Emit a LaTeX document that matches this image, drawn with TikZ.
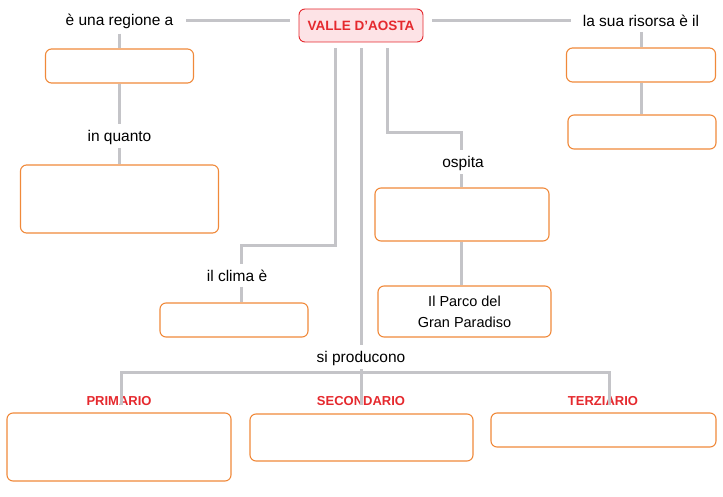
\documentclass[tikz,border=0pt]{standalone}
\usepackage{fontspec}
\setmainfont{Liberation Sans}
\usepackage{xcolor}
\usetikzlibrary{calc}

\definecolor{linegray}{HTML}{C4C4C8}
\definecolor{boxorange}{HTML}{F0893A}
\definecolor{titlered}{HTML}{E5292E}
\definecolor{titlepink}{HTML}{FDE3E6}

\begin{document}
\begin{tikzpicture}[
    x=1pt, y=-1pt,
    conn/.style={draw=linegray, line width=3pt},
    emptybox/.style={draw=boxorange, line width=1.1pt, rounded corners=6pt, fill=white, inner sep=0pt},
    lab/.style={font=\fontsize{15.5}{18}\selectfont, inner sep=0pt},
    sector/.style={font=\bfseries\fontsize{13}{15}\selectfont, text=titlered, inner sep=0pt}
  ]
  \useasboundingbox (0,0) rectangle (723,497);
  % centre
  \node[draw=titlered, line width=0.9pt, fill=titlepink, rounded corners=6pt,
        minimum width=124pt, minimum height=33pt, text=titlered,
        font=\bfseries\fontsize{13.5}{15}\selectfont] (title) at (361,25.5) {VALLE D’AOSTA};
  % left branch
  \node[lab] (regione) at (119.5,21) {è una regione a};
  \node[emptybox, minimum width=148pt, minimum height=34pt] (boxregione) at (119.5,66) {};
  \node[lab] (quanto) at (119.5,137) {in quanto};
  \node[emptybox, minimum width=198pt, minimum height=68pt] (boxquanto) at (119.5,199) {};
  % right branch
  \node[lab] (risorsa) at (641,21) {la sua risorsa è il};
  \node[emptybox, minimum width=149pt, minimum height=34pt] (boxrisorsaA) at (641,65) {};
  \node[emptybox, minimum width=148pt, minimum height=34pt] (boxrisorsaB) at (642,132) {};
  % ospita
  \node[lab] (ospita) at (463,163) {ospita};
  \node[emptybox, minimum width=174pt, minimum height=53pt] (boxospita) at (462,214.5) {};
  \node[emptybox, minimum width=173pt, minimum height=51pt, align=center,
        font=\fontsize{14.5}{21}\selectfont] (parco) at (464.5,311.5) {Il Parco del\\Gran Paradiso};
  % clima
  \node[lab] (clima) at (237,276) {il clima è};
  \node[emptybox, minimum width=148pt, minimum height=34pt] (boxclima) at (234,320) {};
  % settori
  \node[lab] (producono) at (361,358) {si producono};
  \node[sector] (primario) at (119,401) {PRIMARIO};
  \node[sector] (secondario) at (361,401) {SECONDARIO};
  \node[sector] (terziario) at (603,401) {TERZIARIO};
  \node[emptybox, minimum width=224pt, minimum height=68pt] (boxprimario) at (119,447) {};
  \node[emptybox, minimum width=223pt, minimum height=47pt] (boxsecondario) at (361.5,437.5) {};
  \node[emptybox, minimum width=225pt, minimum height=34pt] (boxterziario) at (603.5,430) {};
  % bends
  \coordinate (kneeospitaA) at (387,133);
  \coordinate (kneeospitaB) at (461,133);
  \coordinate (kneeclimaA) at (335,246);
  \coordinate (kneeclimaB) at (241,246);
  \coordinate (barleft) at (121,372);
  \coordinate (barright) at (609,372);

  \draw[conn] ([xshift=-9pt]title.west |- regione.east) -- ([xshift=12pt]regione.east);
  \draw[conn] ([xshift=9pt]title.east |- risorsa.west) -- ([xshift=-12pt]risorsa.west);
  \draw[conn] ([yshift=-5pt]regione.south) -- (boxregione.north);
  \draw[conn] (boxregione.south) -- ([yshift=6pt]quanto.north);
  \draw[conn] ([yshift=-4pt]quanto.south) -- (boxquanto.north);
  \draw[conn] ([yshift=-5pt]risorsa.south) -- (boxrisorsaA.north);
  \draw[conn] (boxrisorsaA.south) -- (boxrisorsaB.north -| boxrisorsaA.south);
  \draw[conn] ([shift={(26pt,-6pt)}]title.south) -- (kneeospitaA) -- (kneeospitaB) -- ([yshift=6pt]ospita.north -| kneeospitaB);
  \draw[conn] ([yshift=-4pt]ospita.south -| kneeospitaB) -- (boxospita.north -| kneeospitaB);
  \draw[conn] (boxospita.south -| kneeospitaB) -- (parco.north -| kneeospitaB);
  \draw[conn] ([shift={(-26pt,-6pt)}]title.south) -- (kneeclimaA) -- (kneeclimaB) -- ([yshift=6pt]clima.north -| kneeclimaB);
  \draw[conn] ([yshift=-5pt]clima.south -| kneeclimaB) -- (boxclima.north -| kneeclimaB);
  \draw[conn] ([yshift=-6pt]title.south) -- ([yshift=6pt]producono.north);
  \draw[conn] ([yshift=-4pt]producono.south) -- ([yshift=-9pt]secondario.north);
  \draw[conn] ([yshift=-9pt]primario.north -| barleft) -- (barleft) -- (barright) -- ([yshift=-9pt]terziario.north -| barright);
\end{tikzpicture}
\end{document}
